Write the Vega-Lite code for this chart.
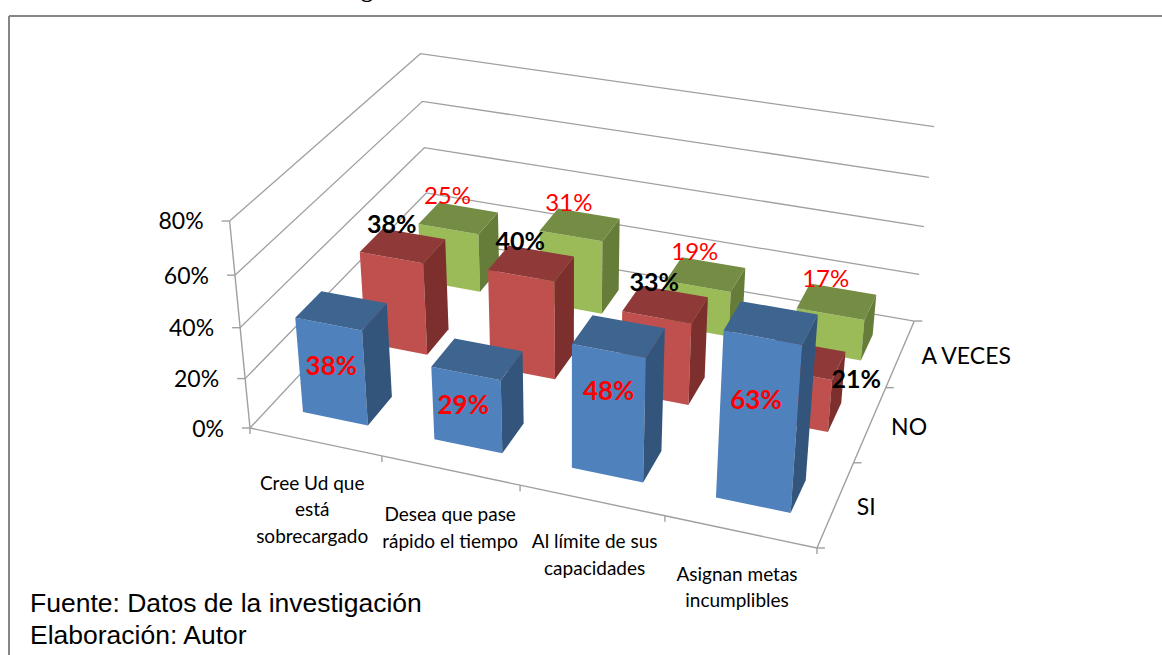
{
"$schema":"https://vega.github.io/schema/vega-lite/v6.json",
"width":1153,"height":639,
"autosize":"none",
"padding":{"left":9,"top":16,"right":0,"bottom":0},
"background":"white",
"config":{"view":{"stroke":null}},
"datasets":{
"bars":[
{"question":"Cree Ud que\nestá\nsobrecargado","series":"A VECES","value":25},
{"question":"Desea que pase\nrápido el tiempo","series":"A VECES","value":31},
{"question":"Al límite de sus\ncapacidades","series":"A VECES","value":19},
{"question":"Asignan metas\nincumplibles","series":"A VECES","value":17},
{"question":"Cree Ud que\nestá\nsobrecargado","series":"NO","value":38},
{"question":"Desea que pase\nrápido el tiempo","series":"NO","value":40},
{"question":"Al límite de sus\ncapacidades","series":"NO","value":33},
{"question":"Asignan metas\nincumplibles","series":"NO","value":21},
{"question":"Cree Ud que\nestá\nsobrecargado","series":"SI","value":38},
{"question":"Desea que pase\nrápido el tiempo","series":"SI","value":29},
{"question":"Al límite de sus\ncapacidades","series":"SI","value":48},
{"question":"Asignan metas\nincumplibles","series":"SI","value":63}
],
"questions":[
{"question":"Cree Ud que\nestá\nsobrecargado","pos":0.125},
{"question":"Desea que pase\nrápido el tiempo","pos":0.375},
{"question":"Al límite de sus\ncapacidades","pos":0.625},
{"question":"Asignan metas\nincumplibles","pos":0.875}
],
"series":[
{"series":"SI","pos":0.1667},
{"series":"NO","pos":0.5},
{"series":"A VECES","pos":0.8333}
],
"pcts":[{"pct":0},{"pct":20},{"pct":40},{"pct":60},{"pct":80}],
"uTicks":[{"u":0},{"u":0.25},{"u":0.5},{"u":0.75},{"u":1}],
"vTicks":[{"v":0},{"v":0.3333},{"v":0.6667},{"v":1}]
},
"encoding":{
"x":{"field":"px","type":"quantitative","axis":null,"scale":{"domain":[9,1162],"nice":false,"zero":false}},
"y":{"field":"py","type":"quantitative","axis":null,"scale":{"domain":[655,16],"nice":false,"zero":false}}
},
"layer":[
{"data":{"values":[{"frame":"left"}]},"mark":{"type":"rule","stroke":"#868686","strokeWidth":2},"encoding":{"x":{"value":0},"y":null}},
{"data":{"values":[{"frame":"top"}]},"mark":{"type":"rule","stroke":"#868686","strokeWidth":2},"encoding":{"y":{"value":0},"x":null}},
{"data":{"name":"pcts"},
"transform":[
{"calculate":"[0,1,2]","as":"corner"},{"flatten":["corner"]},
{"calculate":"datum.corner==2?1:0","as":"U"},{"calculate":"datum.corner>=1?1:0","as":"V"},{"calculate":"datum.pct/80","as":"W"},
{"calculate":"1-0.0903*datum.U+0.184*datum.V-0.0597*datum.W","as":"D"},
{"calculate":"(250+493.2*datum.U+256.8*datum.V-34.1*datum.W)/datum.D","as":"px"},
{"calculate":"(428+70.5*datum.U-147.4*datum.V-220.2*datum.W)/datum.D","as":"py"}
],
"mark":{"type":"line","stroke":"#a0a0a0","strokeWidth":1.3},
"encoding":{"detail":{"field":"pct"},"order":{"field":"corner"}}},
{"data":{"name":"pcts"},
"transform":[
{"calculate":"datum.pct/80","as":"W"},
{"calculate":"1-0.0597*datum.W","as":"D"},
{"calculate":"(250-34.1*datum.W)/datum.D","as":"px"},
{"calculate":"(428-220.2*datum.W)/datum.D","as":"py"},
{"calculate":"datum.px-8","as":"tx"},
{"calculate":"datum.pct+'%'","as":"label"}
],
"layer":[
{"mark":{"type":"line","stroke":"#a0a0a0","strokeWidth":1.4},"encoding":{"order":{"field":"pct"}}},
{"mark":{"type":"rule","stroke":"#a0a0a0","strokeWidth":1.4},"encoding":{"x2":{"field":"tx"},"y2":{"field":"py"}}},
{"mark":{"type":"text","align":"right","baseline":"middle","font":"Lato","fontSize":23,"dx":-26,"dy":1.5,"color":"#000"},"encoding":{"text":{"field":"label"}}}
]},
{"data":{"name":"uTicks"},
"transform":[
{"calculate":"1-0.0903*datum.u","as":"D"},
{"calculate":"(250+493.2*datum.u)/datum.D","as":"px"},
{"calculate":"(428+70.5*datum.u)/datum.D","as":"py"},
{"calculate":"datum.py+6","as":"ty"}
],
"layer":[
{"mark":{"type":"line","stroke":"#a0a0a0","strokeWidth":1.4},"encoding":{"order":{"field":"u"}}},
{"mark":{"type":"rule","stroke":"#a0a0a0","strokeWidth":1.4},"encoding":{"x2":{"field":"px"},"y2":{"field":"ty"}}}
]},
{"data":{"name":"vTicks"},
"transform":[
{"calculate":"0.9097+0.184*datum.v","as":"D"},
{"calculate":"(743.2+256.8*datum.v)/datum.D","as":"px"},
{"calculate":"(498.5-147.4*datum.v)/datum.D","as":"py"},
{"calculate":"datum.px+8","as":"tx"}
],
"layer":[
{"mark":{"type":"line","stroke":"#a0a0a0","strokeWidth":1.4},"encoding":{"order":{"field":"v"}}},
{"mark":{"type":"rule","stroke":"#a0a0a0","strokeWidth":1.4},"encoding":{"x2":{"field":"tx"},"y2":{"field":"py"}}}
]},
{"data":{"name":"bars"},
"transform":[
{"calculate":"indexof(['SI','NO','A VECES'],datum.series)","as":"j"},
{"calculate":"indexof(['Cree','Dese','Al l','Asig'],substring(datum.question,0,4))","as":"i"},
{"calculate":"(datum.i+0.25)/4","as":"u0"},{"calculate":"(datum.i+0.75)/4","as":"u1"},
{"calculate":"(datum.j+0.5)/3-0.065","as":"v0"},{"calculate":"(datum.j+0.5)/3+0.065","as":"v1"},
{"calculate":"datum.value/80","as":"h"},
{"calculate":"['front','side','top']","as":"face"},{"flatten":["face"]},
{"calculate":"[0,1,2,3]","as":"corner"},{"flatten":["corner"]},
{"calculate":"datum.corner==1||datum.corner==2","as":"a"},
{"calculate":"datum.corner>=2","as":"b"},
{"calculate":"datum.face=='side'?datum.u1:(datum.a?datum.u1:datum.u0)","as":"U"},
{"calculate":"datum.face=='front'?datum.v0:(datum.face=='side'?(datum.a?datum.v1:datum.v0):(datum.b?datum.v1:datum.v0))","as":"V"},
{"calculate":"datum.face=='top'?datum.h:(datum.b?datum.h:0)","as":"W"},
{"calculate":"1-0.0903*datum.U+0.184*datum.V-0.0597*datum.W","as":"D"},
{"calculate":"(250+493.2*datum.U+256.8*datum.V-34.1*datum.W)/datum.D","as":"px"},
{"calculate":"(428+70.5*datum.U-147.4*datum.V-220.2*datum.W)/datum.D","as":"py"},
{"calculate":"datum.series+'-'+datum.face","as":"shade"},
{"calculate":"datum.series+datum.i+datum.face","as":"piece"}
],
"mark":{"type":"line","interpolate":"linear-closed","filled":true,"strokeWidth":0},
"encoding":{
"fill":{"field":"shade","type":"nominal","legend":null,"scale":{
"domain":["SI-front","SI-side","SI-top","NO-front","NO-side","NO-top","A VECES-front","A VECES-side","A VECES-top"],
"range":["#4f81bd","#33557c","#3e6490","#c0504d","#7d2f2d","#8f3a38","#9bbb59","#667c39","#748c43"]}},
"detail":{"field":"piece"},
"order":{"field":"corner"}}},
{"data":{"name":"bars"},
"transform":[
{"calculate":"indexof(['SI','NO','A VECES'],datum.series)","as":"j"},
{"calculate":"indexof(['Cree','Dese','Al l','Asig'],substring(datum.question,0,4))","as":"i"},
{"calculate":"(datum.i+0.5)/4","as":"U"},{"calculate":"(datum.j+0.5)/3","as":"V"},{"calculate":"datum.value/80","as":"W"},
{"calculate":"1-0.0903*datum.U+0.184*datum.V-0.0597*datum.W","as":"D"},
{"calculate":"(250+493.2*datum.U+256.8*datum.V-34.1*datum.W)/datum.D+(datum.j==0?[-10,-14,-10,-15][datum.i]:(datum.j==1&&datum.i==3?53:-11))","as":"px"},
{"calculate":"(428+70.5*datum.U-147.4*datum.V-220.2*datum.W)/datum.D+(datum.j==0?[57,47,56,79][datum.i]:(datum.j==1&&datum.i==3?21:-21))","as":"py"},
{"calculate":"datum.value+'%'","as":"label"}
],
"layer":[
{"transform":[{"filter":"datum.series==='SI'"}],"mark":{"type":"text","font":"Lato","fontWeight":"bold","fontSize":26,"color":"#ff0000","baseline":"middle"},"encoding":{"text":{"field":"label"}}},
{"transform":[{"filter":"datum.series==='NO'"}],"mark":{"type":"text","font":"Lato","fontWeight":"bold","fontSize":25,"color":"#000000","baseline":"middle"},"encoding":{"text":{"field":"label"}}},
{"transform":[{"filter":"datum.series==='A VECES'"}],"mark":{"type":"text","font":"Lato","fontSize":24,"color":"#ff0000","baseline":"middle"},"encoding":{"text":{"field":"label"}}}
]},
{"data":{"name":"questions"},
"transform":[
{"calculate":"1-0.0903*datum.pos","as":"D"},
{"calculate":"floor(datum.pos*4)","as":"i"},
{"calculate":"(250+493.2*datum.pos)/datum.D+[-3,0,3,-3][datum.i]","as":"px"},
{"calculate":"(428+70.5*datum.pos)/datum.D+33+[0,3,0,1][datum.i]","as":"py"}
],
"mark":{"type":"text","font":"Lato","fontSize":19,"align":"center","baseline":"top","lineBreak":"\n","lineHeight":26.5,"color":"#000"},
"encoding":{"text":{"field":"question"}}},
{"data":{"name":"series"},
"transform":[
{"calculate":"0.9097+0.184*datum.pos","as":"D"},
{"calculate":"(743.2+256.8*datum.pos)/datum.D+21","as":"px"},
{"calculate":"(498.5-147.4*datum.pos)/datum.D+4","as":"py"}
],
"mark":{"type":"text","font":"Lato","fontSize":23,"align":"left","baseline":"middle","color":"#000"},
"encoding":{"text":{"field":"series"}}},
{"data":{"values":[{"note":"Fuente: Datos de la investigación","px":30,"py":604},{"note":"Elaboración: Autor","px":30,"py":636}]},
"mark":{"type":"text","font":"Liberation Sans","fontSize":26.5,"align":"left","baseline":"middle","color":"#000"},
"encoding":{"text":{"field":"note"}}},
{"data":{"values":[{"note":"g","px":367,"py":-3}]},
"mark":{"type":"text","font":"Liberation Serif","fontWeight":"bold","fontSize":24,"align":"center","baseline":"alphabetic","color":"#000"},
"encoding":{"text":{"field":"note"}}}
]
}
